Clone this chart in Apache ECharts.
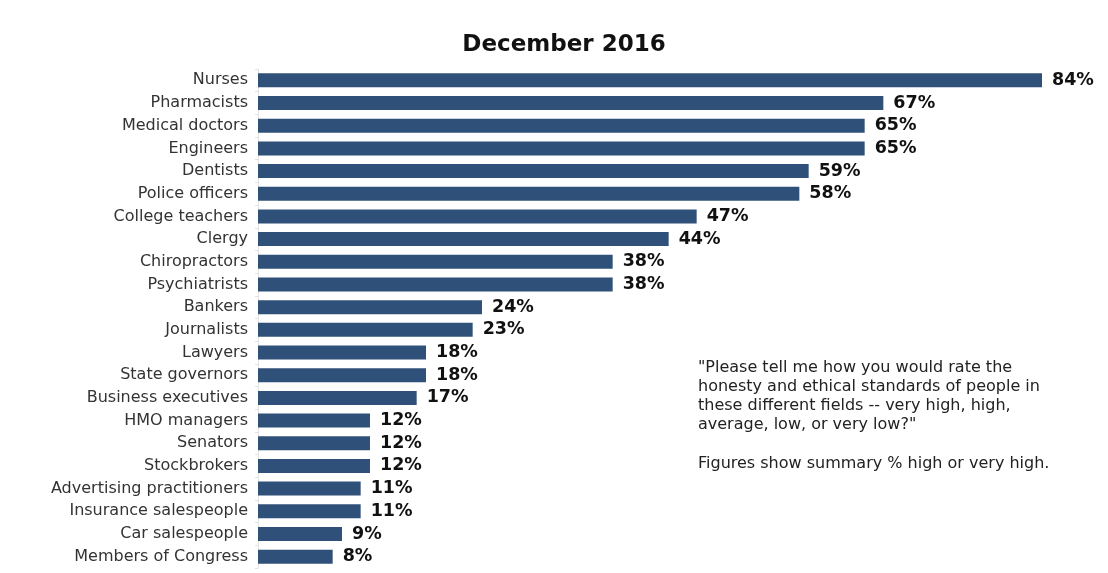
<!DOCTYPE html>
<html><head><meta charset="utf-8">
<script src="https://cdn.jsdelivr.net/npm/echarts@6/dist/echarts.min.js"></script>
<style>html,body{margin:0;padding:0;background:#fff}#c{width:1108px;height:573px}</style>
</head><body><div id="c"></div>
<script>
const categories = ["Nurses","Pharmacists","Medical doctors","Engineers","Dentists","Police officers","College teachers","Clergy","Chiropractors","Psychiatrists","Bankers","Journalists","Lawyers","State governors","Business executives","HMO managers","Senators","Stockbrokers","Advertising practitioners","Insurance salespeople","Car salespeople","Members of Congress"];
const values = [84,67,65,65,59,58,47,44,38,38,24,23,18,18,17,12,12,12,11,11,9,8];
const titleText = "December 2016";
const noteText = "\"Please tell me how you would rate the\nhonesty and ethical standards of people in\nthese different fields -- very high, high,\naverage, low, or very low?\"\n\nFigures show summary % high or very high.";

const chart = echarts.init(document.getElementById('c'));
const font = "'DejaVu Sans', Verdana, sans-serif";
chart.setOption({
  animation: false,
  title: { text: titleText, left: 559, top: 29, textAlign: 'center',
    textStyle: { fontFamily: font, fontWeight: 'bold', fontSize: 23, color: '#111' } },
  graphic: [{ type: 'text', left: 698, top: 358,
    style: { text: noteText, font: "16px 'DejaVu Sans', Verdana, sans-serif", fill: '#222', lineHeight: 19.2 } }],
  grid: { left: 258, right: 66, top: 69, bottom: 5, containLabel: false },
  xAxis: { type: 'value', min: 0, max: 84, show: false },
  yAxis: { type: 'category', data: categories, inverse: true,
    axisLine: { show: true, lineStyle: { color: '#e2e2e2' } },
    axisTick: { show: true, length: 3, lineStyle: { color: '#e2e2e2' } },
    axisLabel: { fontFamily: font, fontSize: 16, color: '#333', margin: 10 } },
  series: [{ type: 'bar', data: values, barWidth: 14,
    itemStyle: { color: '#2f5179' },
    label: { show: true, position: 'right', distance: 10, formatter: '{c}%',
      fontFamily: font, fontWeight: 'bold', fontSize: 17.5, color: '#111' } }]
});
</script></body></html>
